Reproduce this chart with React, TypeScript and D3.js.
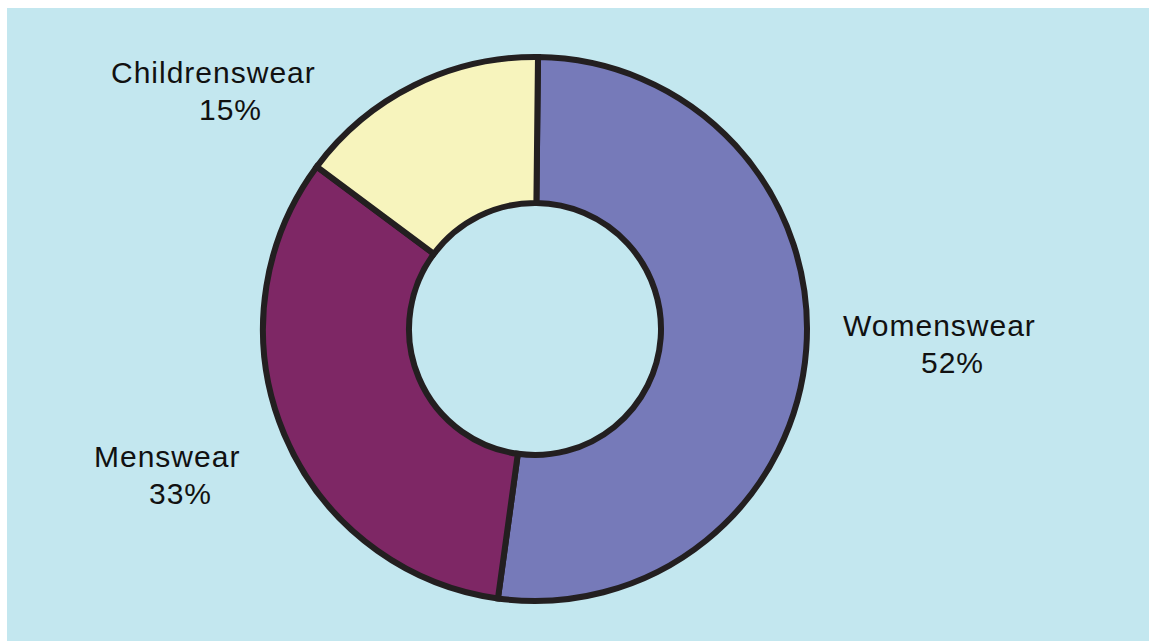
import React from "react";
import * as d3 from "d3";

const categories = ["Womenswear", "Menswear", "Childrenswear"];
const values = [52, 33, 15];
const percentLabels = ["52%", "33%", "15%"];
const colors = ["#767ab9", "#7e2765", "#f7f4bd"];

// label layout (x of name line, x of percent line, baseline of name line)
const labelLayout = [
  { nx: 843, px: 921, y: 336 },
  { nx: 94, px: 149, y: 467 },
  { nx: 111, px: 199, y: 83 },
];

const W = 1149;
const H = 641;
const cx = 535;
const cy = 329;
const outerR = 272;
const innerR = 126;
const start = 0.011;

export default function App() {
  const pie = d3
    .pie<number>()
    .sort(null)
    .value((d) => d)
    .startAngle(start)
    .endAngle(start + Math.PI * 2);
  const arcs = pie(values);
  const arcGen = d3.arc<d3.PieArcDatum<number>>().innerRadius(innerR).outerRadius(outerR);

  return (
    <svg
      width={W}
      height={H}
      style={{ position: "absolute", left: 0, top: 0, display: "block" }}
      fontFamily="'Liberation Sans', Arial, Helvetica, sans-serif"
    >
      <rect x={7} y={8} width={W - 7} height={H - 8} fill="#c3e7ef" />
      <g transform={`translate(${cx},${cy})`}>
        {arcs.map((a, i) => (
          <path
            key={categories[i]}
            d={arcGen(a) || ""}
            fill={colors[i]}
            stroke="#231f20"
            strokeWidth={6}
            strokeLinejoin="miter"
          />
        ))}
      </g>
      {categories.map((c, i) => (
        <g key={c} fontSize={30} fill="#111" letterSpacing={1}>
          <text x={labelLayout[i].nx} y={labelLayout[i].y}>
            {c}
          </text>
          <text x={labelLayout[i].px} y={labelLayout[i].y + 37}>
            {percentLabels[i]}
          </text>
        </g>
      ))}
    </svg>
  );
}
